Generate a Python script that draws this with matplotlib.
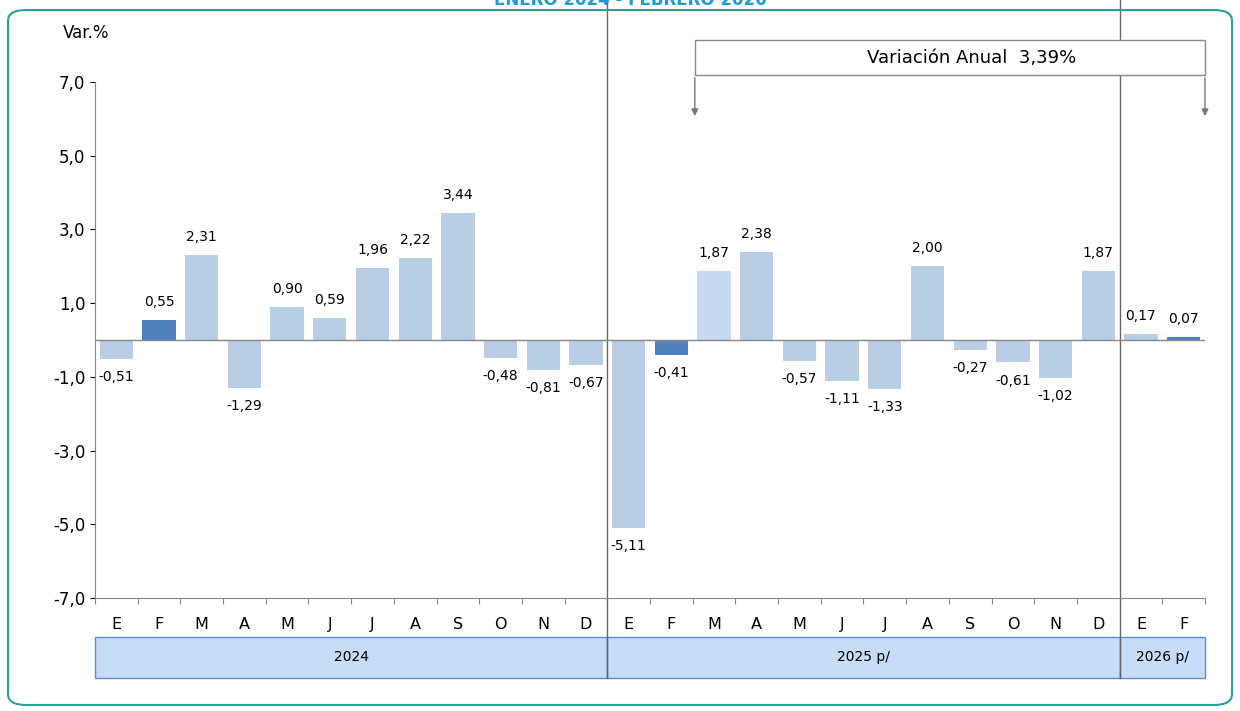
import numpy as np
import matplotlib.pyplot as plt
from matplotlib.patches import FancyBboxPatch, Rectangle

plt.rcParams['font.family'] = ['Liberation Sans Narrow', 'DejaVu Sans']

meses = ["E","F","M","A","M","J","J","A","S","O","N","D",
         "E","F","M","A","M","J","J","A","S","O","N","D","E","F"]
valores = [-0.51,0.55,2.31,-1.29,0.90,0.59,1.96,2.22,3.44,-0.48,-0.81,-0.67,
           -5.11,-0.41,1.87,2.38,-0.57,-1.11,-1.33,2.00,-0.27,-0.61,-1.02,1.87,0.17,0.07]
anios = [("2024", -0.5, 11.5), ("2025 p/", 11.5, 23.5), ("2026 p/", 23.5, 25.5)]
oscuros = [1, 13, 25]

colores = ["#b9cde5"] * len(valores)
for i in oscuros:
    colores[i] = "#4f81bd"
colores[14] = "#c6d9f0"

fig = plt.figure(figsize=(12.4, 7.11), dpi=100)
ax = fig.add_axes([95/1240, 1-598/711, 1110/1240, 516/711])
x = np.arange(len(valores))
ax.bar(x, valores, width=0.78, color=colores, zorder=2)
ax.axhline(0, color="#888888", lw=1, zorder=3)
ax.set_xlim(-0.5, 25.5)
ax.set_ylim(-7, 7)
ax.set_yticks(np.arange(-7, 8, 2))
ax.set_yticklabels([f"{v:.1f}".replace(".", ",") for v in np.arange(-7, 8, 2)], fontsize=12)
ax.set_xticks(np.arange(-0.5, 26, 1))
ax.set_xticklabels([])
ax.tick_params(axis="x", length=4, color="#888888")
for s in ["top", "right"]:
    ax.spines[s].set_visible(False)
ax.spines["left"].set_color("#888888")
ax.spines["bottom"].set_color("#888888")

for xi, v in zip(x, valores):
    t = f"{v:.2f}".replace(".", ",")
    if v >= 0:
        ax.text(xi, v + 0.3, t, ha="center", va="bottom", fontsize=10)
    else:
        ax.text(xi, v - 0.3, t, ha="center", va="top", fontsize=10)

for xi, m in zip(x, meses):
    ax.text(xi, -7.73, m, ha="center", va="center", fontsize=11.5)

# bandas de anios
for nombre, a, b in anios:
    ax.add_patch(Rectangle((a, -9.17), b - a, 1.11, clip_on=False,
                           facecolor="#c6dcf7", edgecolor="#5b8fd4", lw=1))
    ax.text((a + b) / 2, -8.6, nombre, ha="center", va="center", fontsize=10)

# separadores
for xs in [11.5, 23.5]:
    ax.plot([xs, xs], [-9.17, 9.3], color="#666666", lw=1, clip_on=False)

# llave de variacion anual
x1, x2 = 13.55, 25.5
ax.add_patch(Rectangle((x1, 7.19), x2 - x1, 0.95, facecolor="white",
                       edgecolor="#888888", lw=1, clip_on=False, zorder=4))
ax.text((x1 + x2) / 2 + 0.5, 7.66, "Variación Anual  3,39%", ha="center", va="center",
        fontsize=13, zorder=5)
for xa in [x1, x2]:
    ax.annotate("", xy=(xa, 6.0), xytext=(xa, 7.19), annotation_clip=False,
                arrowprops=dict(arrowstyle="-|>", color="#777777", lw=1))

fig.text(63/1240, 1-33/711, "Var.%", ha="left", va="center", fontsize=12)
fig.text(630/1240, 1.0, "ENERO 2024 - FEBRERO 2026", ha="center", va="center",
         fontsize=12, color="#1f9ad6", fontweight="bold")
fig.patches.append(FancyBboxPatch((8/1240, 6/711), 1224/1240, 695/711,
                                  boxstyle="round,pad=0,rounding_size=0.015",
                                  transform=fig.transFigure, fill=False,
                                  edgecolor="#2aa198", lw=1.5))
fig.savefig("out.png", dpi=100)
